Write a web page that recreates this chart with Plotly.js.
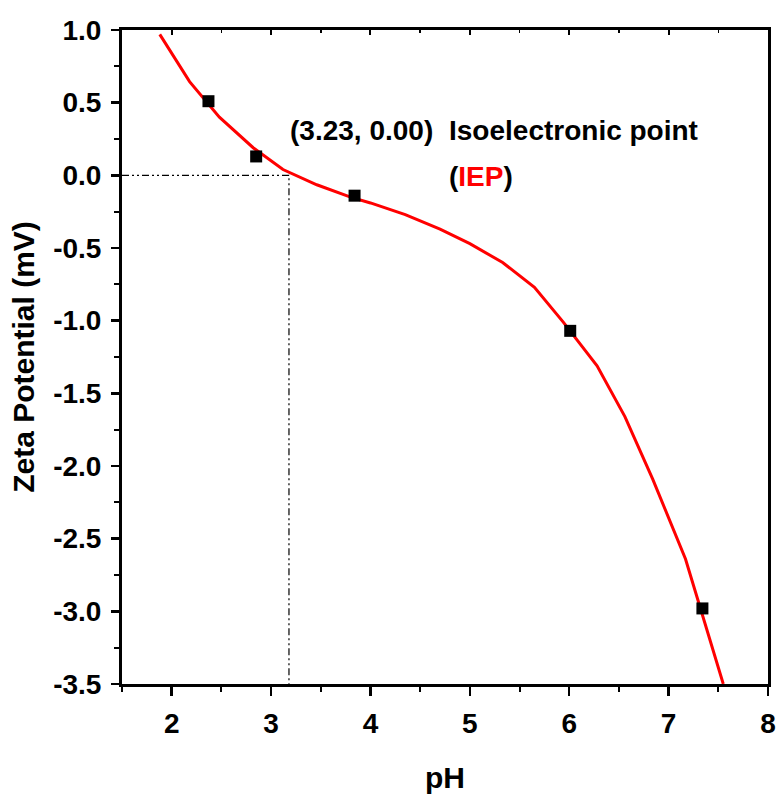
<!DOCTYPE html>
<html>
<head>
<meta charset="utf-8">
<script src="https://cdn.plot.ly/plotly-3.0.1.min.js"></script>
<style>html,body{margin:0;padding:0;background:#fff;}#chart{width:777px;height:800px;}</style>
</head>
<body>
<div id="chart"></div>
<script>
// measured points
const phData = [2.37, 2.85, 3.84, 6.01, 7.34];
const zetaData = [0.51, 0.13, -0.14, -1.07, -2.98];
// fitted curve
const phFit = [1.88, 2.18, 2.48, 2.82, 3.12, 3.46, 3.8, 4.0, 4.35, 4.7, 5.0, 5.33, 5.65, 5.94, 6.28, 6.56, 6.84, 7.17, 7.55];
const zetaFit = [0.97, 0.645, 0.40, 0.19, 0.04, -0.065, -0.15, -0.19, -0.27, -0.37, -0.47, -0.60, -0.77, -1.01, -1.31, -1.66, -2.09, -2.64, -3.5];
// isoelectric point guide lines
const guideX = [1.5, 3.18, 3.18];
const guideY = [0, 0, -3.5];
const xTicks = [2, 3, 4, 5, 6, 7, 8];
const yTicks = [1.0, 0.5, 0.0, -0.5, -1.0, -1.5, -2.0, -2.5, -3.0, -3.5];

const font = '"Liberation Sans", Arial, sans-serif';

const traces = [
  {x: guideX, y: guideY, mode: 'lines', line: {color: '#000', width: 1.2, dash: '7px,3px,2px,3px,2px,3px'}, hoverinfo: 'skip', showlegend: false},
  {x: phFit, y: zetaFit, mode: 'lines', line: {color: '#ff0000', width: 3}, showlegend: false},
  {x: phData, y: zetaData, mode: 'markers', marker: {symbol: 'square', size: 12, color: '#000'}, showlegend: false},
  {x: [1.5], y: [1], xaxis: 'x2', mode: 'markers', marker: {opacity: 0}, hoverinfo: 'skip', showlegend: false}
];

const layout = {
  width: 777, height: 800,
  margin: {l: 122, r: 9, t: 30, b: 116},
  paper_bgcolor: '#fff', plot_bgcolor: '#fff',
  xaxis: {
    range: [1.5, 8], tickvals: xTicks, ticktext: xTicks.map(String),
    showgrid: false, zeroline: false,
    showline: true, linecolor: '#000', linewidth: 3, mirror: true,
    ticks: 'outside', ticklen: 9, tickwidth: 2.5, tickcolor: '#000',
    minor: {dtick: 0.5, tick0: 1.5, ticks: 'outside', ticklen: 5, tickwidth: 2, tickcolor: '#000'},
    tickfont: {family: font, size: 28, color: '#000', weight: 'bold'},
    ticklabelstandoff: 3,
    title: {text: 'pH', font: {family: font, size: 30, color: '#000', weight: 'bold'}, standoff: 30}
  },
  xaxis2: {
    overlaying: 'x', side: 'top', range: [1.5, 8], tickvals: xTicks, showticklabels: false,
    showgrid: false, zeroline: false, showline: false,
    ticks: 'inside', ticklen: 5, tickwidth: 2, tickcolor: '#000',
    minor: {dtick: 0.5, tick0: 1.5, ticks: 'inside', ticklen: 3, tickwidth: 1.5, tickcolor: '#000'}
  },
  yaxis: {
    range: [-3.5, 1], tickvals: yTicks, ticktext: yTicks.map(v => v.toFixed(1)),
    showgrid: false, zeroline: false,
    showline: true, linecolor: '#000', linewidth: 3, mirror: true,
    ticks: 'outside', ticklen: 8, tickwidth: 2.5, tickcolor: '#000',
    minor: {dtick: 0.25, tick0: -3.5, ticks: 'outside', ticklen: 5, tickwidth: 2, tickcolor: '#000'},
    tickfont: {family: font, size: 28, color: '#000', weight: 'bold'},
    ticklabelstandoff: 4,
    title: {text: 'Zeta Potential (mV)', font: {family: font, size: 30, color: '#000', weight: 'bold'}, standoff: 10}
  },
  annotations: [
    {x: 3.17, y: 0.31, xref: 'x', yref: 'y', xanchor: 'left', yanchor: 'middle', showarrow: false,
     text: '(3.23, 0.00)', font: {family: font, size: 28, color: '#000', weight: 'bold'}},
    {x: 4.77, y: 0.31, xref: 'x', yref: 'y', xanchor: 'left', yanchor: 'middle', showarrow: false,
     text: 'Isoelectronic point', font: {family: font, size: 28, color: '#000', weight: 'bold'}},
    {x: 4.77, y: -0.01, xref: 'x', yref: 'y', xanchor: 'left', yanchor: 'middle', showarrow: false,
     text: '(<span style="color:#ff0000">IEP</span>)', font: {family: font, size: 28, color: '#000', weight: 'bold'}}
  ]
};

Plotly.newPlot('chart', traces, layout, {displayModeBar: false, staticPlot: true});
</script>
</body>
</html>
